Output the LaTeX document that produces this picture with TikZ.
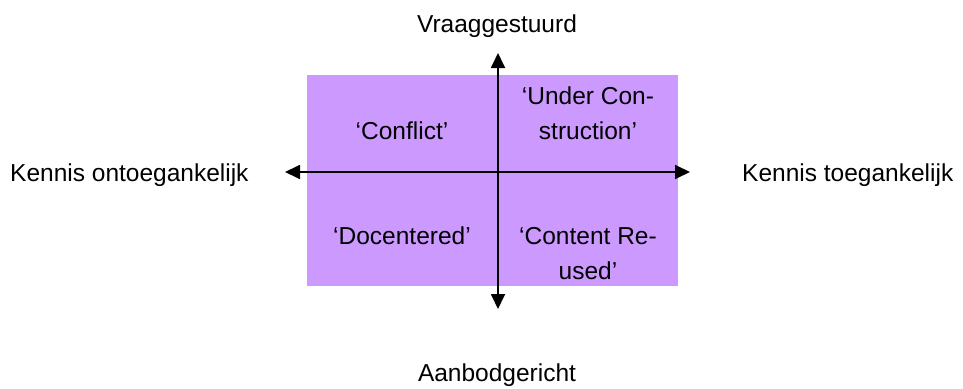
\documentclass[tikz,border=0pt]{standalone}
\usepackage{fontspec}
\setmainfont{Liberation Sans}
\usetikzlibrary{arrows.meta}
\definecolor{quadfill}{HTML}{CC99FF}
\tikzset{
  axis/.style={line width=1.8pt,{Triangle[length=15pt,width=14pt]}-{Triangle[length=15pt,width=14pt]}},
  lbl/.style={anchor=base,inner sep=0pt,font=\fontsize{24.5}{35}\selectfont},
  quad/.style={lbl,align=center}
}
\begin{document}
\begin{tikzpicture}[x=1pt,y=-1pt]
\useasboundingbox (0,0) rectangle (963,388);
% quadrants
\fill[quadfill] (307,75) rectangle (678,286);
\node[quad] (conflict) at (402,139) {`Conflict'};
\node[quad] (under) at (588,139) {`Under Con-\\struction'};
\node[quad] (docent) at (402,244) {`Docentered'};
\node[quad] (reused) at (588,279) {`Content Re-\\used'};
% axes
\coordinate (west) at (285,172);
\coordinate (east) at (690,172);
\coordinate (north) at (498,53);
\coordinate (south) at (498,309);
\draw[axis] (west) -- (east);
\draw[axis] (south) -- (north);
% axis labels
\node[lbl] (vraag) at (497,32) {Vraaggestuurd};
\node[lbl] (aanbod) at (497,381) {Aanbodgericht};
\node[lbl,anchor=base west] (onto) at (10,181) {Kennis ontoegankelijk};
\node[lbl,anchor=base west] (toeg) at (742,181) {Kennis toegankelijk};
\end{tikzpicture}
\end{document}
